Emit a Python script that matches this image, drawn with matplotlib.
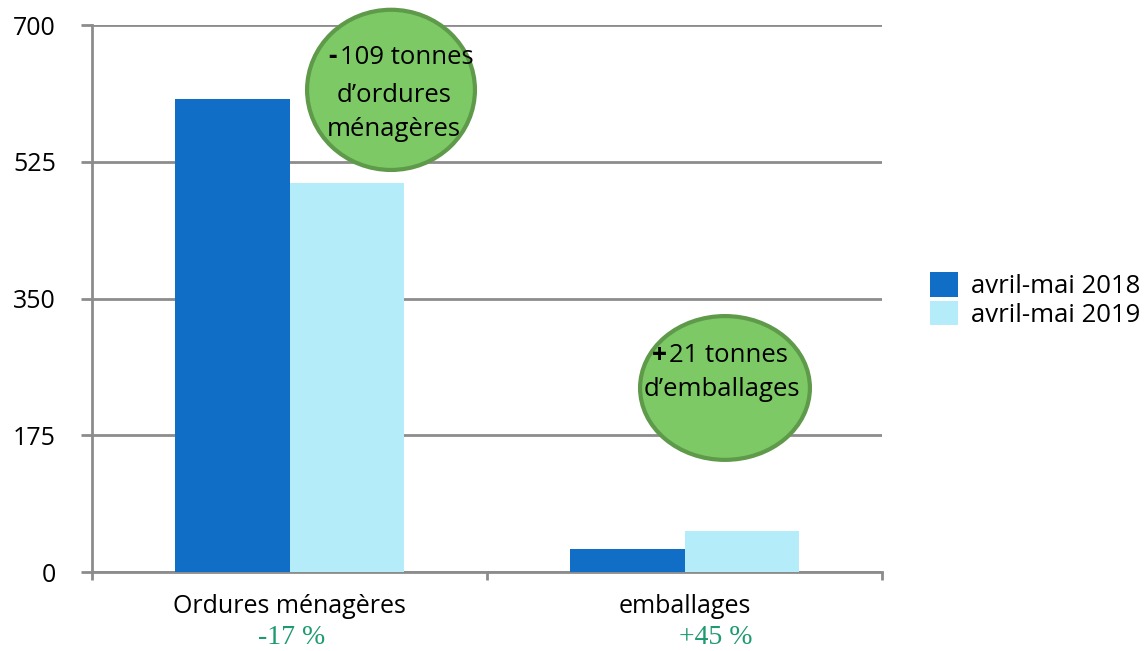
import matplotlib
matplotlib.use("Agg")
import matplotlib.pyplot as plt
from matplotlib.patches import Ellipse, Patch
import numpy as np

categories = ["Ordures ménagères", "emballages"]
series_names = ["avril-mai 2018", "avril-mai 2019"]
values_2018 = [605, 29]
values_2019 = [498, 52]
variations = ["-17 %", "+45 %"]
bubble_signs = ["-", "+"]
bubble_first = ["109 tonnes", "21 tonnes"]
bubble_rest = [["d’ordures", "ménagères"], ["d’emballages"]]
yticks = [0, 175, 350, 525, 700]

c2018 = "#106EC6"
c2019 = "#B5ECFA"
grid_c = "#8C8C8C"
green_txt = "#1E9A72"
FONT = "Open Sans"

fig = plt.figure(figsize=(11.45, 6.51), dpi=100)
ax = fig.add_axes([92/1145, 1-572/651, (882-92)/1145, (572-25)/651])

x = np.arange(len(categories))
w = 0.29
ax.bar(x - 0.145, values_2018, w, color=c2018, zorder=3)
ax.bar(x + 0.145, values_2019, w, color=c2019, zorder=3)

ax.set_xlim(-0.5, 1.5)
ax.set_ylim(0, 700)
ax.set_yticks(yticks)
ax.set_yticklabels([str(v) for v in yticks], fontsize=18, family=FONT)
ax.yaxis.grid(True, color=grid_c, linewidth=2, zorder=0)
for s in ["top", "right"]:
    ax.spines[s].set_visible(False)
for s in ["left", "bottom"]:
    ax.spines[s].set_color(grid_c)
    ax.spines[s].set_linewidth(2)
ax.tick_params(axis="y", length=8, width=2, color=grid_c, pad=18)
ax.set_xticks([-0.5, 0.5, 1.5])
ax.set_xticklabels([])
ax.tick_params(axis="x", length=6, width=2, color=grid_c)

trans = ax.get_xaxis_transform()
cat_x = [0, 1.0]
var_x = [0.005, 1.08]
for i, c in enumerate(categories):
    ax.text(cat_x[i], -0.063, c, transform=trans, ha="center", va="center",
            fontsize=18, family=FONT, color="black")
    ax.text(var_x[i], -0.12, variations[i], transform=trans, ha="center", va="center",
            fontsize=20, family="Liberation Serif", color=green_txt)

# bubbles
bubbles = [(0.257, 617, 0.425, 205), (1.1025, 235.5, 0.43, 184)]
for (cx, cy, bw, bh) in bubbles:
    e = Ellipse((cx, cy), bw, bh, facecolor="#7CC965", edgecolor="#5E9A4A",
                linewidth=3, zorder=5, clip_on=False)
    ax.add_patch(e)

H = 651
def ftxt(px, py, s, ha="center", weight="normal", size=18.5):
    ax.annotate(s, xy=(px, H - py), xycoords="figure pixels", ha=ha, va="center",
                fontsize=size, family=FONT, weight=weight, color="black",
                zorder=6, annotation_clip=False)

# bubble 1
ftxt(337, 57, bubble_signs[0], ha="right", weight="bold", size=19)
ftxt(340, 58, bubble_first[0], ha="left")
ftxt(394, 95, bubble_rest[0][0])
ftxt(394, 130, bubble_rest[0][1])
# bubble 2
ftxt(667, 355, bubble_signs[1], ha="right", weight="bold", size=19)
ftxt(669, 356, bubble_first[1], ha="left")
ftxt(722, 389, bubble_rest[1][0])

handles = [Patch(facecolor=c2018), Patch(facecolor=c2019)]
leg = fig.legend(handles, series_names, loc="center left",
                 bbox_to_anchor=(907/1145, 1-300/651), frameon=False,
                 prop={"family": FONT, "size": 18.5}, handlelength=1.1,
                 handleheight=1.1, handletextpad=0.5, labelspacing=0.05)

fig.savefig("out.png", dpi=100)
